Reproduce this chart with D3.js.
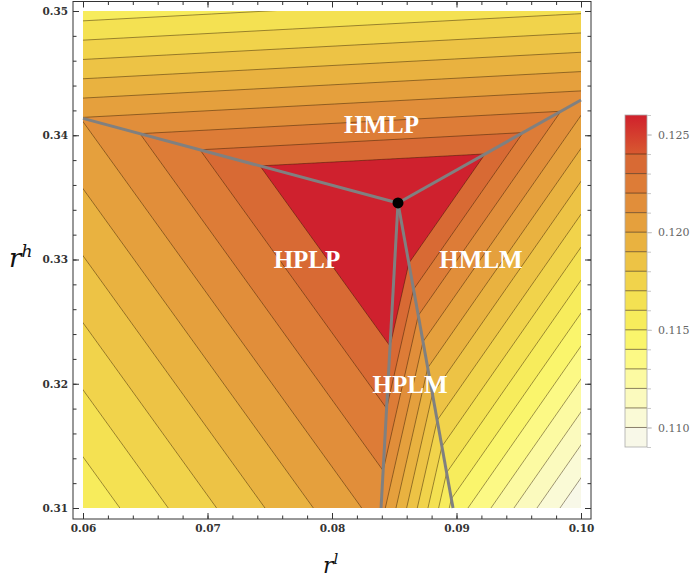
<!DOCTYPE html>
<html>
<head>
<meta charset="utf-8">
<script src="https://cdn.jsdelivr.net/npm/d3@7"></script>
<style>
  body { margin: 0; background: #fff; }
  svg { display: block; }
</style>
</head>
<body>
<svg id="chart" width="692" height="581"></svg>
<script>
// Contour levels (payoff) and band colours, lowest band first
const levels = [0.110, 0.111, 0.112, 0.113, 0.114, 0.115, 0.116, 0.117,
                0.118, 0.119, 0.120, 0.121, 0.122, 0.123, 0.124];
const bandColors = ["#f8f8e8", "#fafad6", "#fbfabe", "#fcfaa2", "#fcf985", "#faf56c",
                    "#f7ec5c", "#f4e152", "#f1d34b", "#edc345", "#e9b240", "#e5a03d",
                    "#e18e3a", "#dd7c37", "#d86a34", "#cf212e"];

// Triple point where the four equilibrium regions meet
const tripleRl = 0.0853;
const tripleRh = 0.33455;
const tripleVal = 0.1263;

// Ends of the region boundaries (clockwise from the left one) and payoff there
const boundaryRl = [0.06, 0.10, 0.08972, 0.08394];
const boundaryRh = [0.34136, 0.34284, 0.31, 0.31];
const boundaryVal = [0.12105, 0.12147, 0.11465, 0.1214];

// Region between boundary k and k+1
const regionNames = ["HMLP", "HMLM", "HPLM", "HPLP"];
const regionLabelRl = [0.08398, 0.09197, 0.08627, 0.07799];
const regionLabelRh = [0.34021, 0.32929, 0.31923, 0.32929];

// Axis ticks
const xTicks = [0.06, 0.07, 0.08, 0.09, 0.10];
const yTicks = [0.31, 0.32, 0.33, 0.34, 0.35];
const legendTicks = [0.110, 0.115, 0.120, 0.125];
const legendRange = [0.109, 0.126];

const svg = d3.select("#chart");

const x = d3.scaleLinear().domain([0.06, 0.10]).range([83, 581]);
const y = d3.scaleLinear().domain([0.31, 0.35]).range([508, 11]);
const frame = { x0: 73, x1: 591, y0: 1.5, y1: 519 };

// Piecewise-linear payoff: a plane in each wedge around the triple point
const rays = boundaryRl.map((rl, k) => {
  const u = (rl - tripleRl) / 0.04, v = (boundaryRh[k] - tripleRh) / 0.04;
  return { u, v, val: boundaryVal[k], ang: Math.atan2(v, u) };
});
const TAU = 2 * Math.PI;
const cw = (a, b) => (((a - b) % TAU) + TAU) % TAU;

function payoff(rl, rh) {
  const pu = (rl - tripleRl) / 0.04, pv = (rh - tripleRh) / 0.04;
  const th = Math.atan2(pv, pu);
  for (let k = 0; k < rays.length; k++) {
    const A = rays[k], B = rays[(k + 1) % rays.length];
    if (cw(A.ang, th) <= cw(A.ang, B.ang)) {
      const det = A.u * B.v - A.v * B.u;
      const s = (pu * B.v - pv * B.u) / det;
      const t = (A.u * pv - A.v * pu) / det;
      return tripleVal + s * (A.val - tripleVal) + t * (B.val - tripleVal);
    }
  }
  return tripleVal;
}

// Sample grid, one sample per pixel, padded so the edges fall outside the clip
const pad = 2;
const [px0, px1] = x.range(), [py1, py0] = y.range();
const nx = Math.round(px1 - px0) + 1 + 2 * pad;
const ny = Math.round(py1 - py0) + 1 + 2 * pad;
const rlAt = u => x.invert(px0 + u - 0.5 - pad);
const rhAt = v => y.invert(py0 + v - 0.5 - pad);
const values = new Float64Array(nx * ny);
for (let j = 0; j < ny; j++) {
  for (let i = 0; i < nx; i++) {
    values[j * nx + i] = payoff(rlAt(i + 0.5), rhAt(j + 0.5));
  }
}
const bands = d3.contours().size([nx, ny]).thresholds(levels)(values);
const path = d3.geoPath(d3.geoTransform({
  point: function (u, v) { this.stream.point(x(rlAt(u)), y(rhAt(v))); }
}));

svg.append("defs").append("clipPath").attr("id", "plotClip")
  .append("rect")
  .attr("x", px0).attr("y", py0)
  .attr("width", px1 - px0).attr("height", py1 - py0);

const plot = svg.append("g").attr("clip-path", "url(#plotClip)");
plot.append("rect")
  .attr("x", px0).attr("y", py0)
  .attr("width", px1 - px0).attr("height", py1 - py0)
  .attr("fill", bandColors[0]);

plot.selectAll("path.band")
  .data(bands)
  .join("path")
  .attr("class", "band")
  .attr("d", path)
  .attr("fill", (d, i) => bandColors[i + 1]);

plot.selectAll("path.iso")
  .data(bands)
  .join("path")
  .attr("class", "iso")
  .attr("d", path)
  .attr("fill", "none")
  .attr("stroke", "rgba(40,20,0,0.6)")
  .attr("stroke-width", 0.75);

// Region boundaries
const line = d3.line().x(d => x(d[0])).y(d => y(d[1]));
svg.append("g").selectAll("path")
  .data(boundaryRl.map((rl, k) => [[tripleRl, tripleRh], [rl, boundaryRh[k]]]))
  .join("path")
  .attr("d", line)
  .attr("fill", "none")
  .attr("stroke", "#808080")
  .attr("stroke-width", 3);

svg.append("circle")
  .attr("cx", x(tripleRl)).attr("cy", y(tripleRh))
  .attr("r", 5.5).attr("fill", "#000");

// Region labels
svg.append("g").selectAll("text")
  .data(regionNames)
  .join("text")
  .attr("x", (d, i) => x(regionLabelRl[i]))
  .attr("y", (d, i) => y(regionLabelRh[i]))
  .attr("text-anchor", "middle")
  .attr("font-family", "Liberation Serif")
  .attr("font-weight", "bold")
  .attr("font-size", 25)
  .attr("fill", "#fff")
  .text(d => d);

// Frame and ticks
svg.append("rect")
  .attr("x", frame.x0).attr("y", frame.y0)
  .attr("width", frame.x1 - frame.x0).attr("height", frame.y1 - frame.y0)
  .attr("fill", "none").attr("stroke", "#333").attr("stroke-width", 1);

function styleAxis(g) {
  g.select(".domain").remove();
  g.attr("font-family", "DejaVu Serif").attr("font-size", 10.5).attr("font-weight", "bold");
  g.selectAll("line").attr("stroke", "#333");
  g.selectAll("text").attr("fill", "#333");
}
const fmt = d3.format(".2f");
svg.append("g").attr("transform", `translate(0,${frame.y1})`)
  .call(d3.axisBottom(x).tickValues(xTicks).tickSizeInner(-6).tickSizeOuter(0).tickPadding(6).tickFormat(fmt))
  .call(styleAxis);
svg.append("g").attr("transform", `translate(0,${frame.y1})`)
  .call(d3.axisBottom(x).ticks(20).tickSizeInner(-3.5).tickSizeOuter(0).tickFormat(""))
  .call(styleAxis);
svg.append("g").attr("transform", `translate(0,${frame.y0})`)
  .call(d3.axisTop(x).tickValues(xTicks).tickSizeInner(-6).tickSizeOuter(0).tickFormat(""))
  .call(styleAxis);
svg.append("g").attr("transform", `translate(0,${frame.y0})`)
  .call(d3.axisTop(x).ticks(20).tickSizeInner(-3.5).tickSizeOuter(0).tickFormat(""))
  .call(styleAxis);
svg.append("g").attr("transform", `translate(${frame.x0},0)`)
  .call(d3.axisLeft(y).tickValues(yTicks).tickSizeInner(-6).tickSizeOuter(0).tickPadding(5).tickFormat(fmt))
  .call(styleAxis);
svg.append("g").attr("transform", `translate(${frame.x0},0)`)
  .call(d3.axisLeft(y).ticks(20).tickSizeInner(-3.5).tickSizeOuter(0).tickFormat(""))
  .call(styleAxis);
svg.append("g").attr("transform", `translate(${frame.x1},0)`)
  .call(d3.axisRight(y).tickValues(yTicks).tickSizeInner(-6).tickSizeOuter(0).tickFormat(""))
  .call(styleAxis);
svg.append("g").attr("transform", `translate(${frame.x1},0)`)
  .call(d3.axisRight(y).ticks(20).tickSizeInner(-3.5).tickSizeOuter(0).tickFormat(""))
  .call(styleAxis);

// Axis titles
const yTitle = svg.append("text")
  .attr("x", 9).attr("y", 267)
  .attr("font-family", "DejaVu Serif").attr("font-style", "italic")
  .attr("font-size", 26).attr("fill", "#111");
yTitle.append("tspan").text("r");
yTitle.append("tspan").attr("font-size", 17).attr("dy", -10).text("h");

const xTitle = svg.append("text")
  .attr("x", 323).attr("y", 573)
  .attr("font-family", "DejaVu Serif").attr("font-style", "italic")
  .attr("font-size", 22).attr("fill", "#111");
xTitle.append("tspan").text("r");
xTitle.append("tspan").attr("font-size", 15).attr("dy", -9).text("l");

// Legend
const yL = d3.scaleLinear().domain(legendRange).range([447, 115]);
const legend = svg.append("g");
const legendX = 625, legendW = 22;
const grad = svg.select("defs").append("linearGradient")
  .attr("id", "topBand").attr("x1", 0).attr("y1", 0).attr("x2", 0).attr("y2", 1);
grad.append("stop").attr("offset", 0).attr("stop-color", "#d0202c");
grad.append("stop").attr("offset", 1).attr("stop-color", "#d85a30");

const bandEdges = [legendRange[0], ...levels, legendRange[1]];
legend.selectAll("rect.lband")
  .data(bandColors)
  .join("rect")
  .attr("class", "lband")
  .attr("x", legendX).attr("width", legendW)
  .attr("y", (d, i) => yL(bandEdges[i + 1]))
  .attr("height", (d, i) => yL(bandEdges[i]) - yL(bandEdges[i + 1]))
  .attr("fill", (d, i) => i === bandColors.length - 1 ? "url(#topBand)" : d);

legend.selectAll("line.lvl")
  .data(levels)
  .join("line")
  .attr("class", "lvl")
  .attr("x1", legendX).attr("x2", legendX + legendW)
  .attr("y1", d => yL(d)).attr("y2", d => yL(d))
  .attr("stroke", "rgba(40,20,0,0.6)").attr("stroke-width", 0.9);

legend.append("rect")
  .attr("x", legendX).attr("y", yL(legendRange[1]))
  .attr("width", legendW).attr("height", yL(legendRange[0]) - yL(legendRange[1]))
  .attr("fill", "none").attr("stroke", "#aaa").attr("stroke-width", 0.8);

function styleLegendAxis(g) {
  g.select(".domain").remove();
  g.attr("font-family", "DejaVu Serif").attr("font-size", 11);
  g.selectAll("line").attr("stroke", "#c8c8c8");
  g.selectAll("text").attr("fill", "#666");
}
legend.append("g").attr("transform", `translate(${legendX + legendW},0)`)
  .call(d3.axisRight(yL).ticks(17).tickSize(4).tickFormat(""))
  .call(styleLegendAxis);
legend.append("g").attr("transform", `translate(${legendX + legendW},0)`)
  .call(d3.axisRight(yL).tickValues(legendTicks).tickSize(5).tickPadding(6).tickFormat(d3.format(".3f")))
  .call(styleLegendAxis);
</script>
</body>
</html>
